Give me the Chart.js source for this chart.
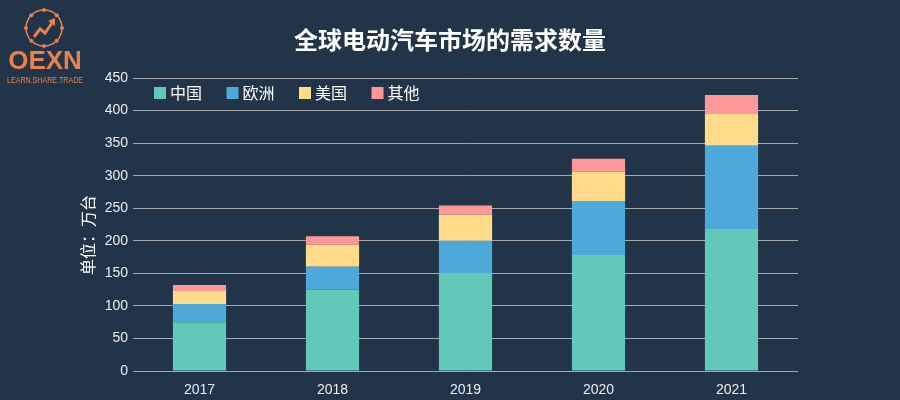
<!DOCTYPE html>
<html>
<head>
<meta charset="utf-8">
<script src="https://cdn.jsdelivr.net/npm/chart.js@4"></script>
<style>
  html, body { margin: 0; padding: 0; background: #213448; }
  #wrap { width: 900px; height: 400px; position: relative; }
</style>
</head>
<body>
<div id="wrap"><canvas id="chart"></canvas></div>
<script>
// data (单位：万台)
const years = ['2017', '2018', '2019', '2020', '2021'];
const china = [75, 125, 150, 178, 218];
const europe = [28, 35, 50, 83, 128];
const usa = [20, 34, 40, 45, 50];
const other = [9, 13, 14, 20, 28];
const seriesNames = ['中国', '欧洲', '美国', '其他'];
const yTicks = [0, 50, 100, 150, 200, 250, 300, 350, 400, 450];

const colors = ['#62c8b8', '#4ea8da', '#ffdb8a', '#ff9799'];
const FONT = '"Liberation Sans", "Noto Sans CJK SC", sans-serif';
const CJK = '"Noto Sans CJK SC", "Liberation Sans", sans-serif';
const ORANGE = '#e8804f';

// logo, title, legend and axis caption drawn on the canvas
const decor = {
  id: 'decor',
  afterDraw(chart) {
    const ctx = chart.ctx;
    ctx.save();

    // logo ring with dots
    ctx.strokeStyle = ORANGE;
    ctx.fillStyle = ORANGE;
    ctx.lineWidth = 1.5;
    ctx.beginPath();
    ctx.arc(44, 28, 18, 0, Math.PI * 2);
    ctx.stroke();
    for (let i = 0; i < 8; i++) {
      const a = i * Math.PI / 4;
      ctx.beginPath();
      ctx.arc(44 + Math.cos(a) * 18, 28 + Math.sin(a) * 18, 2, 0, Math.PI * 2);
      ctx.fill();
    }
    // zigzag arrow
    ctx.lineWidth = 3;
    ctx.beginPath();
    ctx.moveTo(34, 37);
    ctx.lineTo(40, 29);
    ctx.lineTo(45, 33);
    ctx.lineTo(52, 23);
    ctx.stroke();
    ctx.beginPath();
    ctx.moveTo(55, 18);
    ctx.lineTo(48, 21);
    ctx.lineTo(55, 26);
    ctx.closePath();
    ctx.fill();

    ctx.textAlign = 'center';
    ctx.textBaseline = 'alphabetic';
    ctx.font = 'bold 26px ' + FONT;
    ctx.fillText('OEXN', 45, 69, 76);
    ctx.font = '9px ' + FONT;
    ctx.fillText('LEARN.SHARE.TRADE', 45, 83, 76);

    // title
    ctx.fillStyle = '#ffffff';
    ctx.font = 'bold 24px ' + CJK;
    ctx.textBaseline = 'middle';
    ctx.fillText('全球电动汽车市场的需求数量', 450, 40);

    // legend
    ctx.textAlign = 'left';
    ctx.font = '16px ' + CJK;
    chart.data.datasets.forEach((ds, i) => {
      const x = 154 + i * 72.5;
      ctx.fillStyle = ds.backgroundColor;
      ctx.fillRect(x, 87, 12, 12);
      ctx.fillStyle = '#ffffff';
      ctx.fillText(ds.label, x + 16, 93);
    });

    // y caption
    ctx.textAlign = 'center';
    ctx.translate(88, 235);
    ctx.rotate(-Math.PI / 2);
    ctx.fillText('单位：万台', 0, 0);
    ctx.restore();
  }
};

const datasets = [china, europe, usa, other].map((d, i) => ({
  label: seriesNames[i],
  data: d,
  backgroundColor: colors[i],
  borderWidth: 0,
  barPercentage: 1,
  categoryPercentage: 0.4
}));

new Chart(document.getElementById('chart'), {
  type: 'bar',
  data: { labels: years, datasets },
  options: {
    responsive: true,
    maintainAspectRatio: false,
    animation: false,
    layout: { padding: { top: 78, right: 102, bottom: 0, left: 0 } },
    plugins: {
      title: { display: false },
      tooltip: { enabled: false },
      legend: { display: false }
    },
    scales: {
      x: {
        stacked: true,
        grid: { display: false },
        border: { display: false },
        ticks: { color: '#ececec', font: { family: FONT, size: 14 }, padding: 3 },
        afterFit(s) { s.height = 29; }
      },
      y: {
        stacked: true,
        min: 0,
        max: 450,
        afterBuildTicks(s) { s.ticks = yTicks.map(v => ({ value: v })); },
        grid: { color: '#a4a8ac', lineWidth: 1, drawTicks: false },
        border: { display: false },
        ticks: { color: '#ececec', font: { family: FONT, size: 14 }, padding: 5 },
        afterFit(s) { s.width = 133; }
      }
    }
  },
  plugins: [decor]
});
</script>
</body>
</html>
